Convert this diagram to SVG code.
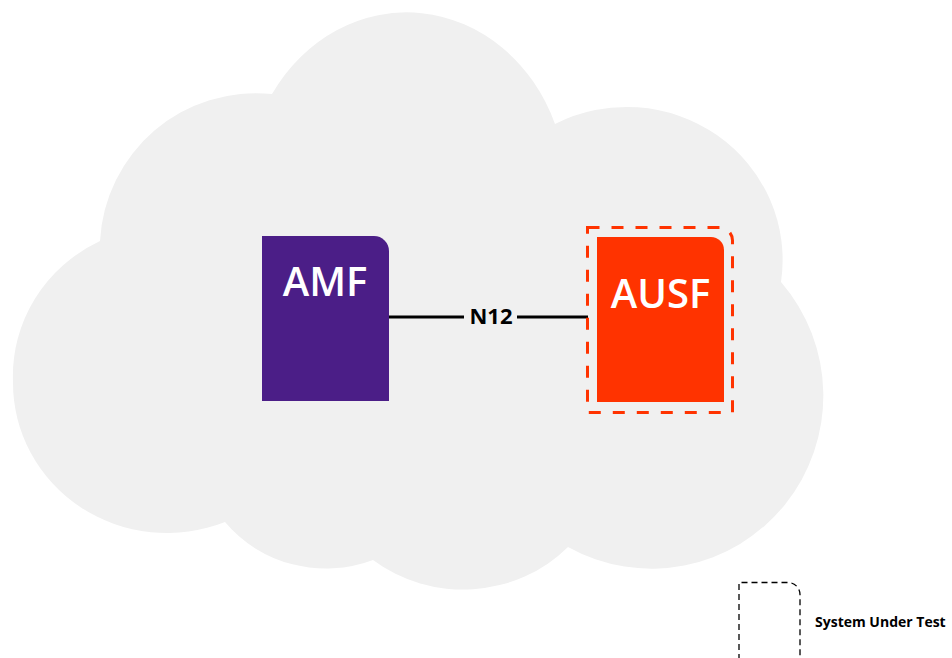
<svg xmlns="http://www.w3.org/2000/svg" width="952" height="658" viewBox="0 0 952 658">
<style>
.lbl{font-family:"Open Sans","Noto Sans","Liberation Sans",sans-serif;fill:#fff;font-weight:600;font-size:40px;text-anchor:middle}
.n12{font-family:"Open Sans","Noto Sans","Liberation Sans",sans-serif;fill:#000;font-weight:700;font-size:22px;text-anchor:middle}
.leg{font-family:"Open Sans","Noto Sans","Liberation Sans",sans-serif;fill:#000;font-weight:700;font-size:14px}
</style>
<rect width="952" height="658" fill="#fff"/>
<path id="cloud" fill="#f0f0f0" d="M100,241 A156,156 0 0 1 272,94 A160,178 0 0 1 555,124 A156,153 0 0 1 781,282 A172,173 0 0 1 568,547 A145,137 0 0 1 373,560 A130,126 0 0 1 225,522 A154,150 0 0 1 13,382 A154,150 0 0 1 100,241 Z"/>
<g id="connectors">
<line x1="389" y1="317" x2="464" y2="317" stroke="#000" stroke-width="3"/>
<line x1="517" y1="317" x2="588" y2="317" stroke="#000" stroke-width="3"/>
<text class="n12" x="491" y="324">N12</text>
</g>
<g id="amf">
<path d="M262,236 H374 A15,15 0 0 1 389,251 V401 H262 Z" fill="#4b1e87"/>
<text class="lbl" x="325" y="296">AMF</text>
</g>
<g id="ausf">
<path d="M597,237 H711 A13,13 0 0 1 724,250 V402 H597 Z" fill="#ff3300"/>
<text class="lbl" x="660.5" y="308">AUSF</text>
<path d="M587.5,227.5 H719 A13,13 0 0 1 732.5,241 V412.5 H587.5 Z" fill="none" stroke="#ff3300" stroke-width="3" stroke-dasharray="12 12"/>
</g>
<g id="legend">
<path d="M739,660 V582.5 H788 A12,12 0 0 1 800,594.5 V660" fill="none" stroke="#000" stroke-width="1.3" stroke-dasharray="6 4"/>
<text class="leg" x="815" y="627">System Under Test</text>
</g>
</svg>
